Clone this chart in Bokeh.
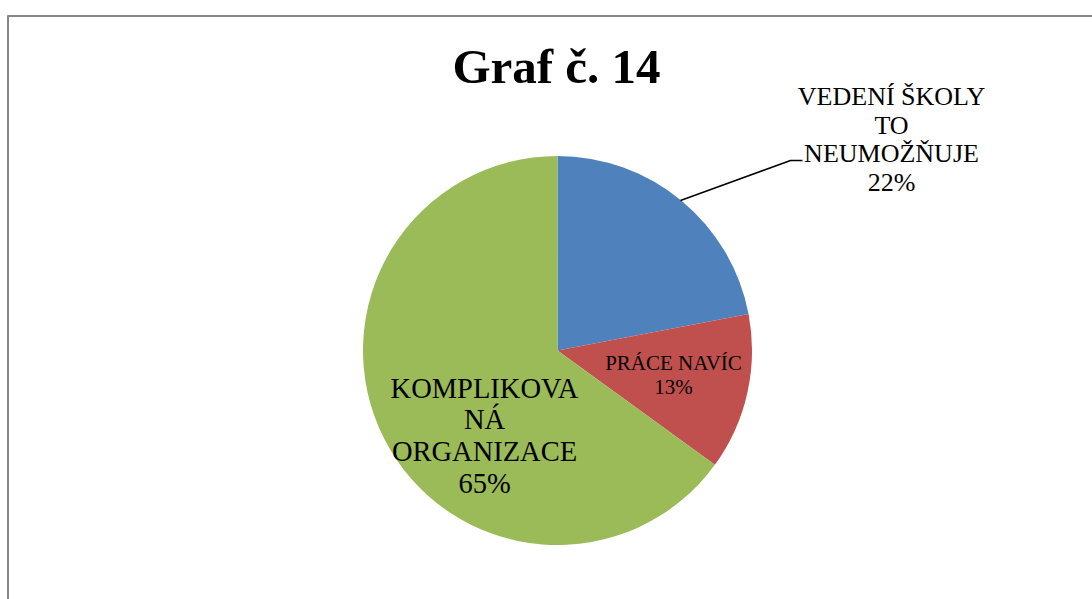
import math
from bokeh.plotting import figure
from bokeh.models import Range1d, ColumnDataSource
from bokeh.core.properties import value
from bokeh.embed import file_html
from bokeh.resources import INLINE

# ---- data ----
categories = ["VEDENÍ ŠKOLY TO NEUMOŽŇUJE", "PRÁCE NAVÍC", "KOMPLIKOVANÁ ORGANIZACE"]
percents = [22, 13, 65]
colors = ["#4F81BD", "#C0504D", "#9BBB59"]
title_text = "Graf č. 14"

W, H = 1092, 599
FONT = "Liberation Serif"

p = figure(width=W, height=H, output_backend="svg", toolbar_location=None,
           x_range=Range1d(0, W), y_range=Range1d(-H, 0),
           min_border=0)
p.axis.visible = False
p.grid.visible = False
p.outline_line_color = None
p.background_fill_color = "white"
p.border_fill_color = "white"

def Y(py):
    return -py

# border of the chart area (extends beyond window right/bottom)
p.line([7.5, 7.5], [Y(15), Y(H)], line_color="#878787", line_width=2)
p.line([7, W], [Y(15.5), Y(15.5)], line_color="#878787", line_width=2)

# ---- pie ----
cx, cy, r = 557, 350, 194.5
total = sum(percents)
starts, ends = [], []
a = math.pi / 2
for v in percents:
    starts.append(a)
    a -= v / total * 2 * math.pi
    ends.append(a)
src = ColumnDataSource(dict(start=starts, end=ends, color=colors))
p.wedge(x=cx, y=Y(cy), radius=r, radius_units="screen",
        start_angle="start", end_angle="end", direction="clock",
        fill_color="color", line_color=None, source=src)

# leader line for the first slice
p.line([680, 790, 802], [Y(200), Y(160), Y(160)], line_color="black", line_width=1.5)

# ---- labels ----
def label_lines(lines, x, y0, dy, size):
    ys = [Y(y0 + i * dy) for i in range(len(lines))]
    p.text(x=[x] * len(lines), y=ys, text=lines,
           text_font=value(FONT), text_font_size=f"{size}px",
           text_align="center", text_baseline="alphabetic", text_color="black")

label_lines(["VEDENÍ ŠKOLY", "TO", "NEUMOŽŇUJE", f"{percents[0]}%"], 891, 96, 28.7, 26)
label_lines(["PRÁCE NAVÍC", f"{percents[1]}%"], 673, 362, 24, 21)
label_lines(["KOMPLIKOVA", "NÁ", "ORGANIZACE", f"{percents[2]}%"], 484, 387.5, 31.8, 28.5)

# title
p.text(x=[556], y=[Y(66)], text=[title_text], text_font=value(FONT),
       text_font_size="49px", text_font_style="bold",
       text_align="center", text_baseline="alphabetic", text_color="black")

open("out.html", "w").write(file_html(p, INLINE))
